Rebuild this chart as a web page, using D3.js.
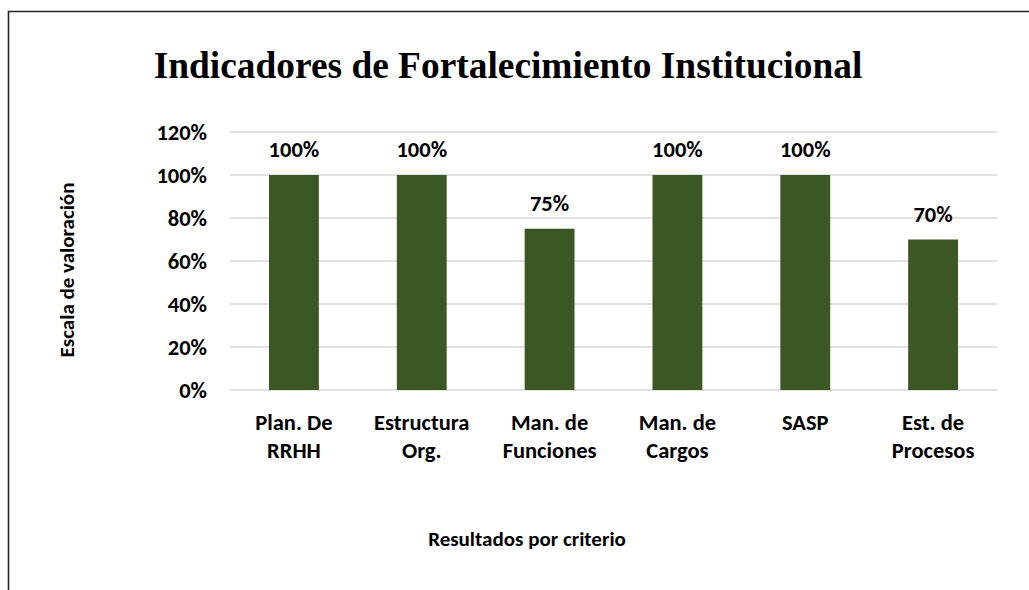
<!DOCTYPE html>
<html lang="es">
<head>
  <meta charset="UTF-8">
  <title>Indicadores de Fortalecimiento Institucional</title>
  <script src="https://cdn.jsdelivr.net/npm/d3@7"></script>
  <style>
    body { margin: 0; background: #fff; }
    svg { display: block; }
    .lbl { font-family: Carlito, Lato, sans-serif; font-weight: bold; fill: #000; }
    .title { font-family: "Liberation Serif", "Times New Roman", serif; font-weight: bold; font-size: 37.4px; }
  </style>
</head>
<body>
  <script>
    var categories = [
      ["Plan. De", "RRHH"],
      ["Estructura", "Org."],
      ["Man. de", "Funciones"],
      ["Man. de", "Cargos"],
      ["SASP"],
      ["Est. de", "Procesos"]
    ];
    var values = [1.0, 1.0, 0.75, 1.0, 1.0, 0.70];
    var yTicks = [0, 0.2, 0.4, 0.6, 0.8, 1.0, 1.2];

    var W = 1029, H = 590;
    var plot = { left: 230, right: 997, top: 132, bottom: 390 };

    var svg = d3.select("body").append("svg")
        .attr("width", W)
        .attr("height", H);

    // chart frame (only top and left edges visible in the crop)
    svg.append("path")
        .attr("d", "M8.5," + H + "V11.5H" + W)
        .attr("fill", "none")
        .attr("stroke", "#262626")
        .attr("stroke-width", 1.6);

    var x = d3.scaleBand()
        .domain(d3.range(categories.length))
        .range([plot.left, plot.right])
        .paddingInner(0.61)
        .paddingOuter(0.305);

    var y = d3.scaleLinear()
        .domain([0, 1.2])
        .range([plot.bottom, plot.top]);

    var pct = d3.format(".0%");

    // gridlines
    svg.append("g")
      .selectAll("line")
      .data(yTicks)
      .enter().append("line")
        .attr("x1", plot.left)
        .attr("x2", plot.right)
        .attr("y1", function(d) { return y(d); })
        .attr("y2", function(d) { return y(d); })
        .attr("stroke", "#d9d9d9")
        .attr("stroke-width", 1.5);

    // y tick labels
    svg.append("g")
      .selectAll("text")
      .data(yTicks)
      .enter().append("text")
        .attr("class", "lbl")
        .attr("x", 207)
        .attr("y", function(d) { return y(d) + 7.5; })
        .attr("text-anchor", "end")
        .style("font-size", "22.5px")
        .text(pct);

    // bars
    svg.append("g")
      .selectAll("rect")
      .data(values)
      .enter().append("rect")
        .attr("x", function(d, i) { return x(i); })
        .attr("width", x.bandwidth())
        .attr("y", function(d) { return y(d); })
        .attr("height", function(d) { return y(0) - y(d); })
        .attr("fill", "#3a5724");

    // value labels
    svg.append("g")
      .selectAll("text")
      .data(values)
      .enter().append("text")
        .attr("class", "lbl")
        .attr("x", function(d, i) { return x(i) + x.bandwidth() / 2; })
        .attr("y", function(d) { return y(d) - 18; })
        .attr("text-anchor", "middle")
        .style("font-size", "22.5px")
        .text(pct);

    // category labels
    var cat = svg.append("g")
      .selectAll("text")
      .data(categories)
      .enter().append("text")
        .attr("class", "lbl")
        .attr("text-anchor", "middle")
        .style("font-size", "22.5px");

    cat.selectAll("tspan")
      .data(function(d, i) { return d.map(function(t) { return { t: t, i: i }; }); })
      .enter().append("tspan")
        .attr("x", function(d) { return x(d.i) + x.bandwidth() / 2; })
        .attr("y", function(d, j) { return 430 + j * 27.5; })
        .text(function(d) { return d.t; });

    // title
    svg.append("text")
        .attr("class", "title")
        .attr("x", 508)
        .attr("y", 78)
        .attr("text-anchor", "middle")
        .text("Indicadores de Fortalecimiento Institucional");

    // axis titles
    svg.append("text")
        .attr("class", "lbl")
        .attr("transform", "translate(74,270) rotate(-90)")
        .attr("text-anchor", "middle")
        .style("font-size", "21px")
        .text("Escala de valoración");

    svg.append("text")
        .attr("class", "lbl")
        .attr("x", 527)
        .attr("y", 546)
        .attr("text-anchor", "middle")
        .style("font-size", "21px")
        .text("Resultados por criterio");
  </script>
</body>
</html>
